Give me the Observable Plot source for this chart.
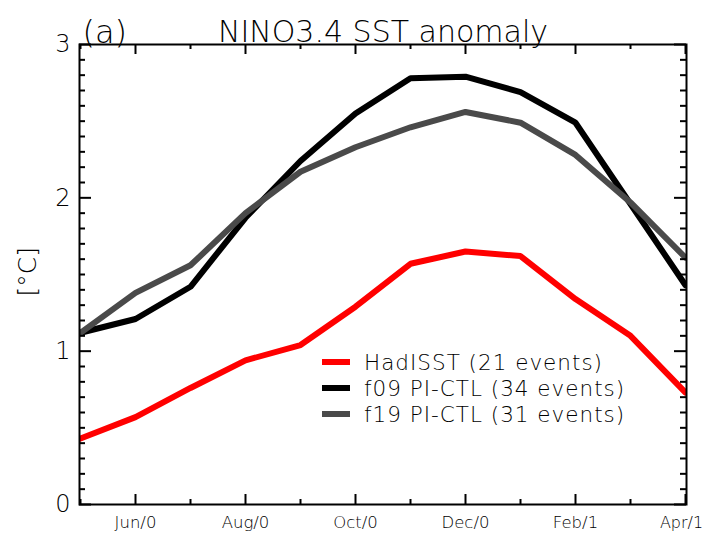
<!DOCTYPE html>
<html><head><meta charset="utf-8">
<script src="https://cdn.jsdelivr.net/npm/d3@7"></script>
<script src="https://cdn.jsdelivr.net/npm/@observablehq/plot@0.6"></script>
<style>
body{margin:0;background:#fff;}
#wrap{position:relative;width:706px;height:534px;font-family:"DejaVu Sans",sans-serif;}
#legend{position:absolute;left:322px;top:349px;font-family:"DejaVu Sans",sans-serif;font-weight:200;font-size:21.5px;letter-spacing:1px;color:#000;}
.row{display:flex;align-items:center;height:26px;white-space:nowrap;}
.sw{width:28px;height:6px;margin-right:14px;}
</style></head><body><div id="wrap"></div>
<script>
const months = ["May/0","Jun/0","Jul/0","Aug/0","Sep/0","Oct/0","Nov/0","Dec/0","Jan/1","Feb/1","Mar/1","Apr/1"];
const hadisst = [0.43,0.57,0.76,0.94,1.04,1.29,1.57,1.65,1.62,1.34,1.10,0.73];
const f09     = [1.12,1.21,1.42,1.87,2.24,2.55,2.78,2.79,2.69,2.49,1.96,1.43];
const f19     = [1.12,1.38,1.56,1.90,2.17,2.33,2.46,2.56,2.49,2.28,1.97,1.61];
const seriesNames = ["HadISST (21 events)","f09 PI-CTL (34 events)","f19 PI-CTL (31 events)"];
const seriesColors = ["#ff0000","#000000","#4a4a4a"];
const yMajor = [0,1,2,3];
const yMinor = [0.1,0.2,0.3,0.4,0.5,0.6,0.7,0.8,0.9,1.1,1.2,1.3,1.4,1.5,1.6,1.7,1.8,1.9,2.1,2.2,2.3,2.4,2.5,2.6,2.7,2.8,2.9];
const xMajor = months.filter((d,i)=>i%2===1);
const xMinor = months.filter((d,i)=>i%2===0);

const values = [hadisst, f09, f19];
const table = [];
seriesNames.forEach((s,k)=>months.forEach((m,i)=>table.push({month:m, value:values[k][i], series:s})));

const W=706,H=534,mL=79,mR=20,mT=44,mB=30;
const pw=W-mL-mR, ph=H-mT-mB;
const font='"DejaVu Sans",sans-serif';
const lastLabel = xMajor[xMajor.length-1];

const chart = Plot.plot({
  width:W,height:H,marginLeft:mL,marginRight:mR,marginTop:mT,marginBottom:mB,
  style:{fontFamily:font,fontWeight:200,background:"#fff",color:"#000",overflow:"visible"},
  x:{type:"point",domain:months,padding:0},
  y:{domain:[0,3]},
  color:{domain:seriesNames,range:seriesColors},
  marks:[
    Plot.line(table,{x:"month",y:"value",stroke:"series",strokeWidth:6,clip:true,strokeLinejoin:"miter"}),
    Plot.tickX(xMajor,{x:d=>d,insetTop:ph-10,strokeWidth:2}),
    Plot.tickX(xMinor,{x:d=>d,insetTop:ph-5,strokeWidth:2}),
    Plot.tickX(xMajor,{x:d=>d,insetBottom:ph-10,strokeWidth:2}),
    Plot.tickX(xMinor,{x:d=>d,insetBottom:ph-5,strokeWidth:2}),
    Plot.tickY(yMajor,{y:d=>d,insetRight:pw-12,strokeWidth:2}),
    Plot.tickY(yMinor,{y:d=>d,insetRight:pw-6,strokeWidth:2}),
    Plot.tickY(yMajor,{y:d=>d,insetLeft:pw-12,strokeWidth:2}),
    Plot.tickY(yMinor,{y:d=>d,insetLeft:pw-6,strokeWidth:2}),
    Plot.frame({stroke:"#000",strokeWidth:2}),
    Plot.axisX({ticks:xMajor.slice(0,-1),tickSize:0,tickPadding:12,fontSize:16.5,label:null}),
    Plot.axisX({ticks:[lastLabel],tickSize:0,tickPadding:12,fontSize:16,dx:-4,label:null}),
    Plot.axisY({ticks:yMajor,tickFormat:d=>String(d),tickSize:0,tickPadding:9,fontSize:24,label:null}),
    Plot.text(["[°C]"],{text:d=>d,frameAnchor:"left",dx:-52,dy:22,rotate:-90,fontSize:25}),
    Plot.text(["NINO3.4 SST anomaly"],{text:d=>d,frameAnchor:"top",dy:-24,fontSize:30}),
    Plot.text(["(a)"],{text:d=>d,frameAnchor:"top-left",textAnchor:"start",dx:3,dy:-24,fontSize:32})
  ]
});
const wrap=document.getElementById("wrap");
wrap.appendChild(chart);
const leg=document.createElement("div");leg.id="legend";
seriesNames.forEach((s,k)=>{
  const r=document.createElement("div");r.className="row";
  const sw=document.createElement("div");sw.className="sw";sw.style.background=seriesColors[k];
  const t=document.createElement("span");t.textContent=s;
  r.appendChild(sw);r.appendChild(t);leg.appendChild(r);
});
wrap.appendChild(leg);
</script></body></html>
